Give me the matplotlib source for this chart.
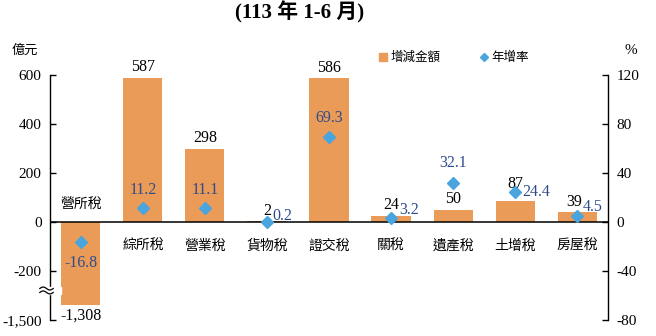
import numpy as np
import matplotlib
matplotlib.use("Agg")
import matplotlib.pyplot as plt
from matplotlib.lines import Line2D

plt.rcParams['font.family'] = ['Liberation Serif', 'Noto Sans CJK TC']

categories = ['營所稅', '綜所稅', '營業稅', '貨物稅', '證交稅', '關稅', '遺產稅', '土增稅', '房屋稅']
amounts = [-1308, 587, 298, 2, 586, 24, 50, 87, 39]
rates = [-16.8, 11.2, 11.1, 0.2, 69.3, 3.2, 32.1, 24.4, 4.5]
left_ticks = [-1500, -200, 0, 200, 400, 600]
right_ticks = [-80, -40, 0, 40, 80, 120]

bar_color = '#E99B57'
dot_color = '#4AA5DE'
rate_color = '#2E4C8C'
cjk = ['Noto Sans CJK TC', 'Liberation Serif']

# broken left axis: squeeze everything below -250
kv = [-3500, -1500, -1308, -250, 600, 5000]
kd = [-2400, -400, -340, -250, 600, 5000]
fwd = lambda y: np.interp(y, kv, kd)
inv = lambda y: np.interp(y, kd, kv)

fig = plt.figure(figsize=(6.56, 3.36), dpi=100)
ax = fig.add_axes([0.076, 0.048, 0.851, 0.729])
ax.set_yscale('function', functions=(fwd, inv))
ax.set_ylim(-1500, 600)
ax.set_xlim(-0.5, len(categories) - 0.5)

x = np.arange(len(categories))
ax.bar(x, amounts, width=0.63, color=bar_color, zorder=2)
ax.axhline(0, color='black', lw=1.1, zorder=3)

ax.set_yticks(left_ticks)
ax.set_yticklabels([f"{t:,}" for t in left_ticks], fontsize=11)
ax.set_xticks([])
ax.tick_params(axis='y', direction='in', length=4, width=1, pad=6)
for s in ['top', 'bottom', 'right']:
    ax.spines[s].set_visible(False)
ax.spines['left'].set_linewidth(1)

# amount labels (a few nudged to clear the rate markers)
amount_offsets = [(0, -2), (0, 2), (0, 2), (0, 2), (0, 2), (0, 2), (0, 2), (0, 6), (-2, 2)]
for i, v in enumerate(amounts):
    dx, dy = amount_offsets[i]
    ax.annotate(f"{v:,}", (i, v), xytext=(dx, dy), textcoords='offset points',
                ha='center', va='bottom' if v >= 0 else 'top', fontsize=11.5)

# category labels
for i, c in enumerate(categories):
    dy = 13 if amounts[i] < 0 else -17
    ax.annotate(c, (i, 0), xytext=(0, dy), textcoords='offset points',
                ha='center', va='center', fontsize=10, family=cjk)

# break marks on left spine
ax.add_patch(plt.Rectangle((-0.02, 0.105), 0.04, 0.03, transform=ax.transAxes,
                           color='white', clip_on=False, zorder=5))
t = np.linspace(-0.018, 0.006, 30)
for base in (0.112, 0.128):
    ax.plot(t, base + 0.006 * np.sin((t + 0.018) / 0.024 * 2 * np.pi), color='black',
            lw=0.9, transform=ax.transAxes, clip_on=False, zorder=6)

# right axis with rates
ax2 = ax.twinx()
ax2.set_ylim(-80, 120)
ax2.set_yticks(right_ticks)
ax2.set_yticklabels([str(t) for t in right_ticks], fontsize=11)
ax2.tick_params(axis='y', direction='in', length=4, width=1, pad=6)
for s in ['top', 'bottom', 'left']:
    ax2.spines[s].set_visible(False)
ax2.spines['right'].set_linewidth(1)
ax2.plot(x, rates, ls='none', marker='D', ms=6, color=dot_color, zorder=4)

rate_offsets = [(0, -15, 'center'), (0, 13, 'center'), (0, 13, 'center'),
                (4, 4, 'left'), (0, 14, 'center'), (6, 6, 'left'),
                (0, 14, 'center'), (5, 0, 'left'), (4, 7, 'left')]
for i, r in enumerate(rates):
    dx, dy, ha = rate_offsets[i]
    ax2.annotate(f"{r:.1f}", (i, r), xytext=(dx, dy), textcoords='offset points',
                 ha=ha, va='center', fontsize=11.5, color=rate_color)

# titles and units
fig.text(0.457, 0.962, '(113 年 1-6 月)', ha='center', va='center',
         fontsize=15, fontweight='bold')
fig.text(0.038, 0.85, '億元', ha='center', va='center', fontsize=9.5, family=cjk)
fig.text(0.962, 0.85, '%', ha='center', va='center', fontsize=11)

handles = [Line2D([], [], ls='none', marker='s', ms=6, color=bar_color),
           Line2D([], [], ls='none', marker='D', ms=4.5, color=dot_color)]
fig.legend(handles, ['增減金額', '年增率'], loc='center', bbox_to_anchor=(0.69, 0.828),
           ncol=2, frameon=False, prop={'family': cjk, 'size': 9},
           handletextpad=0.1, columnspacing=3.0, handlelength=1.0)

fig.savefig('out.png', dpi=100)
